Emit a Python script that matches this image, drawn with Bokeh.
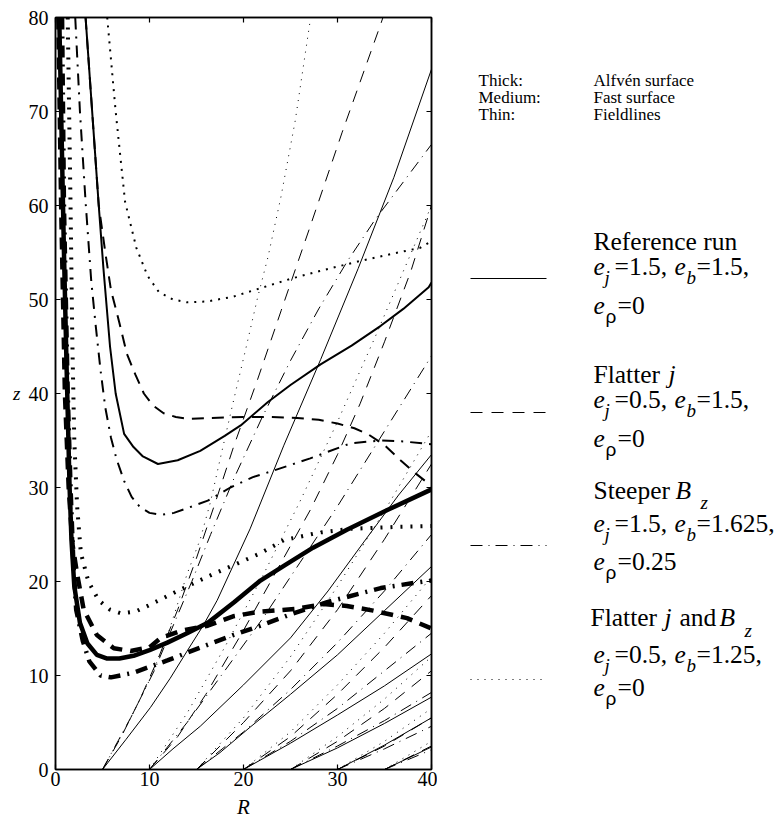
from bokeh.plotting import figure
from bokeh.models import Range1d, FixedTicker, LinearAxis
from bokeh.layouts import row
from bokeh.embed import file_html
from bokeh.resources import INLINE
from bokeh.core.properties import value

# ---------------- data (R, z) ----------------
X_TICKS = [0, 10, 20, 30, 40]
Y_TICKS = [0, 10, 20, 30, 40, 50, 60, 70, 80]

# Alfven surfaces (thick)
ALF_REF_R = [0.4, 0.6, 0.9, 1.2, 1.5, 1.7, 2.0, 2.6, 3.4, 4.4, 5.5, 6.8, 8.3, 10, 11.9, 14, 16.2, 19, 21.8, 24.5, 27.4, 31, 35.3, 40]
ALF_REF_Z = [80, 70, 55, 42, 30, 24.4, 19.5, 15.6, 13.4, 12.2, 11.8, 11.8, 12.1, 12.7, 13.5, 14.5, 15.6, 17.8, 20.1, 21.8, 23.6, 25.5, 27.6, 29.8]
ALF_FJ_R = [0.3, 0.6, 1.0, 1.4, 1.8, 2.3, 3.0, 4.4, 6.2, 8.0, 10.0, 11.2, 13.5, 16.2, 18.9, 21.8, 25.7, 28.5, 31, 33.8, 37.4, 40]
ALF_FJ_Z = [80, 60, 40, 30, 24, 20.8, 17, 14.3, 12.9, 12.6, 13.0, 14.0, 14.8, 15.3, 16.3, 16.8, 17.1, 17.6, 17.4, 16.9, 16.1, 15.0]
ALF_SB_R = [0.7, 0.9, 1.3, 1.6, 1.9, 2.2, 2.9, 3.6, 4.8, 5.9, 8.3, 11.9, 14.7, 18.9, 21.8, 25, 28.9, 34.6, 38.5, 40]
ALF_SB_Z = [80, 60, 40, 30, 22, 17, 13.7, 11.5, 10.0, 9.8, 10.3, 11.6, 12.7, 14.3, 15.3, 16.5, 17.8, 19.3, 19.9, 20.1]
ALF_FJB_R = [1.3, 1.6, 1.8, 2.0, 2.3, 2.7, 3.5, 4.6, 5.8, 7.0, 8.5, 9.8, 13, 16.8, 21.8, 24.3, 28, 31.4, 36, 40]
ALF_FJB_Z = [80, 60, 45, 35, 28, 23, 20, 18, 17, 16.6, 16.8, 17.4, 19.0, 20.8, 23, 24.4, 25.2, 25.6, 25.8, 25.9]

# Fast surfaces (medium)
FAST_REF_R = [3.2, 3.9, 4.6, 5.1, 5.8, 6.4, 7.3, 8.3, 9.3, 10.9, 13, 15.4, 18, 19.7, 22.6, 25, 28.2, 31.5, 34.6, 37, 39.7, 40]
FAST_REF_Z = [80, 70, 60, 53.3, 45, 40, 35.7, 34.3, 33.3, 32.5, 32.9, 33.9, 35.5, 36.6, 39.1, 40.9, 43.1, 45.1, 47.2, 49, 51.3, 51.8]
FAST_FJ_R = [3.2, 3.9, 4.6, 5.3, 5.9, 6.8, 7.6, 8.5, 9.4, 10.4, 11.5, 12.8, 14, 16.5, 20, 23, 25.7, 28, 30, 31.8, 33.2, 35, 36.7, 38.3, 39.7, 40]
FAST_FJ_Z = [80, 70, 60, 55, 51, 47.5, 44.2, 42, 40, 38.7, 37.9, 37.5, 37.3, 37.4, 37.5, 37.5, 37.4, 37.2, 36.8, 36.3, 35.7, 34.5, 32.9, 31.5, 30.4, 30.2]
FAST_SB_R = [2.1, 2.6, 3.2, 3.8, 4.3, 4.8, 5.3, 5.9, 6.5, 7.3, 8.1, 9.0, 10, 11.2, 12.6, 14, 16.2, 18.6, 21, 23.2, 27.1, 31.4, 34.6, 37, 40]
FAST_SB_Z = [80, 70, 60.4, 52, 47, 42.4, 38.5, 35.3, 33, 30.7, 29, 27.9, 27.3, 27.1, 27.3, 27.8, 28.6, 30, 31.1, 31.8, 33.1, 34.7, 35.0, 34.9, 34.6]
FAST_FJB_R = [5.5, 6.4, 7.4, 8.6, 9.8, 11, 12.5, 14, 16.2, 18.9, 21.8, 25, 28, 32.4, 36, 38.8, 40]
FAST_FJB_Z = [80, 70, 60.4, 55.5, 52.5, 50.8, 50, 49.7, 49.8, 50.3, 51.2, 52.2, 53, 54.1, 54.9, 55.5, 56.2]

# Field lines (thin), one list per footpoint
FL_REF_R = [[5, 7.5, 10.1, 12.2, 14, 15.7, 17.2, 20.7, 24.3, 28.2, 32.2, 36, 40],
            [10, 12.5, 15.4, 20, 25, 29, 32.8, 36.5, 40],
            [15, 17.5, 20.7, 25, 30, 35, 40],
            [20, 25, 30, 35, 40],
            [25, 30, 35, 40],
            [30, 35, 40],
            [35, 40]]
FL_REF_Z = [[0, 3.2, 6.6, 9.7, 12.6, 15.3, 18, 25.6, 34.5, 43.6, 53.3, 63, 74.5],
            [0, 2.2, 4.6, 9.0, 14, 19, 24.2, 29.2, 33.5],
            [0, 1.8, 4.5, 8, 12.2, 16.9, 21.6],
            [0, 2.8, 5.8, 8.9, 12.3],
            [0, 2.3, 4.9, 7.7],
            [0, 2.6, 5.5],
            [0, 2.4]]
FL_FJ_R = [[5, 7, 9, 11, 13, 15, 17, 19, 21.5, 24, 27, 30.5, 34.6, 35],
           [10, 13, 16, 20, 24, 27.1, 30, 32.4, 35, 37.8, 40],
           [15, 20, 25, 30, 35, 40],
           [20, 25, 30, 35, 40],
           [25, 30, 35, 40],
           [30, 35, 40],
           [35, 40]]
FL_FJ_Z = [[0, 3.5, 7.5, 12, 17, 22.5, 28.4, 34.5, 41.5, 48.8, 57.5, 67.8, 79.3, 80.5],
           [0, 3.5, 8, 14.8, 22, 27.6, 33.5, 38.9, 45.5, 53, 60],
           [0, 5, 10.5, 17, 24.5, 32.5],
           [0, 3.5, 8, 13, 18.5],
           [0, 3, 6.5, 10.5],
           [0, 2.5, 5.5],
           [0, 2.5]]
FL_SB_R = [[5, 8, 10.5, 12.6, 14.5, 16.5, 19, 22, 25, 28, 31, 34, 37, 40],
           [10, 14, 18, 22, 26, 30, 35, 40],
           [15, 20, 25, 30, 35, 40],
           [20, 25, 30, 35, 40],
           [25, 30, 35, 40],
           [30, 35, 40],
           [35, 40]]
FL_SB_Z = [[0, 5.5, 10.5, 15.5, 20, 25, 31, 37.5, 43.5, 49, 54, 58.5, 62.5, 66.5],
           [0, 5, 10.5, 16, 22, 28, 36, 44],
           [0, 4, 8.5, 13.5, 19, 25],
           [0, 3, 6.5, 10.5, 14.5],
           [0, 2.5, 5.2, 8.2],
           [0, 2.2, 4.6],
           [0, 2.1]]
FL_FJB_R = [[5, 7.5, 10, 12, 14, 15.4, 16.5, 17.6, 19, 20.3, 21.5, 22.6, 24, 25.5, 27.1, 27.2],
            [10, 14, 18, 22, 26, 30, 34, 37, 40],
            [15, 20, 25, 30, 35, 40],
            [20, 25, 30, 35, 40],
            [25, 30, 35, 40],
            [30, 35, 40],
            [35, 40]]
FL_FJB_Z = [[0, 4.5, 9.5, 14.5, 20.8, 24.5, 28.5, 33.4, 39.5, 45, 50.2, 54.5, 61, 69, 79.7, 80.5],
            [0, 6, 13, 20.5, 28.5, 37, 46, 53, 60],
            [0, 5.5, 12, 19.5, 27.5, 36],
            [0, 4, 9, 14.5, 20.5],
            [0, 3.5, 7.5, 12],
            [0, 3, 6.5],
            [0, 3]]

# legend texts
HEAD = ["Thick:", "Medium:", "Thin:"]
HEAD_VAL = ["Alfvén surface", "Fast surface", "Fieldlines"]
EJ = ["1.5", "0.5", "1.5", "0.5"]
EB = ["1.5", "1.5", "1.625", "1.25"]
ER = ["0", "0", "0.25", "0"]

# ---------------- styles ----------------
SERIF = "Liberation Serif, Times New Roman, serif"
THIN_DASH = {"ref": "solid", "fj": "12 9", "sb": "12 6 1 6", "fjb": "1 6"}
MED_DASH = {"ref": "solid", "fj": "12 8", "sb": "12 7 2 7", "fjb": "2 6"}
THICK_DASH = {"ref": "solid", "fj": "12 8", "sb": "12 7 2 7", "fjb": "2 8"}

# ---------------- main plot ----------------
LEFT, TOP, RIGHT = 55, 17, 6
FW, FH = 376, 752
p = figure(frame_width=FW, frame_height=FH, x_range=Range1d(0, 40), y_range=Range1d(0, 80),
           output_backend="svg", toolbar_location=None,
           min_border_left=LEFT, min_border_right=RIGHT, min_border_top=TOP, min_border_bottom=40)
p.xgrid.visible = False
p.ygrid.visible = False
p.outline_line_color = "black"
p.outline_line_width = 1.5
p.background_fill_color = "white"
p.border_fill_color = "white"

for ax, ticks in ((p.xaxis[0], X_TICKS), (p.yaxis[0], Y_TICKS)):
    ax.ticker = FixedTicker(ticks=ticks)
    ax.major_tick_in = 5
    ax.major_tick_out = 0
    ax.minor_tick_line_color = None
    ax.axis_line_width = 1.5
    ax.major_tick_line_width = 1.2
    ax.major_label_text_font = SERIF
    ax.major_label_text_font_size = "20px"
    ax.major_label_text_color = "black"
    ax.axis_label_text_font = SERIF
    ax.axis_label_text_font_style = "italic"
    ax.axis_label_text_color = "black"
p.xaxis[0].major_label_standoff = 2
p.yaxis[0].major_label_standoff = 7
p.xaxis[0].axis_label = "R"
p.xaxis[0].axis_label_text_font_size = "21px"
p.xaxis[0].axis_label_standoff = 6
ya = p.yaxis[0]
ya.axis_label = "z"
ya.axis_label_text_font_size = "19px"
ya.axis_label_standoff = 5
if "axis_label_orientation" in ya.properties():
    ya.axis_label_orientation = "horizontal"

for loc, ticks in (("above", X_TICKS), ("right", Y_TICKS)):
    ax = LinearAxis(ticker=FixedTicker(ticks=ticks), major_tick_in=5, major_tick_out=0,
                    minor_tick_line_color=None, major_label_standoff=0,
                    major_label_overrides={t: "" for t in ticks},
                    major_label_text_font_size="1px",
                    axis_line_width=1.5, major_tick_line_width=1.2)
    p.add_layout(ax, loc)

# fieldlines
for key, xs, ys in (("ref", FL_REF_R, FL_REF_Z), ("fj", FL_FJ_R, FL_FJ_Z),
                    ("sb", FL_SB_R, FL_SB_Z), ("fjb", FL_FJB_R, FL_FJB_Z)):
    p.multi_line(xs, ys, line_color="black", line_width=1, line_dash=THIN_DASH[key])

# fast surfaces
for key, xs, ys in (("ref", FAST_REF_R, FAST_REF_Z), ("fj", FAST_FJ_R, FAST_FJ_Z),
                    ("sb", FAST_SB_R, FAST_SB_Z), ("fjb", FAST_FJB_R, FAST_FJB_Z)):
    p.line(xs, ys, line_color="black", line_width=2, line_dash=MED_DASH[key])

# alfven surfaces
for key, xs, ys in (("ref", ALF_REF_R, ALF_REF_Z), ("fj", ALF_FJ_R, ALF_FJ_Z),
                    ("sb", ALF_SB_R, ALF_SB_Z), ("fjb", ALF_FJB_R, ALF_FJB_Z)):
    p.line(xs, ys, line_color="black", line_width=4.5 if key != "fjb" else 4, line_dash=THICK_DASH[key])

# ---------------- legend panel: its frame sits level with the plot frame; data = page px ----------------
X0 = LEFT + FW + RIGHT
W2 = 345
q = figure(frame_width=W2, frame_height=FH, x_range=Range1d(X0, X0 + W2),
           y_range=Range1d(TOP + FH, TOP),
           output_backend="svg", toolbar_location=None, x_axis_location=None,
           y_axis_location=None, min_border_left=0, min_border_right=0,
           min_border_top=TOP, min_border_bottom=0)
q.xgrid.visible = False
q.ygrid.visible = False
q.outline_line_color = None
q.background_fill_color = "white"
q.border_fill_color = "white"


def txt(x, y, s, size, style="normal", font=SERIF):
    q.text(x=[x], y=[y], text=[s], text_font=value(font), text_font_size=value(size),
           text_font_style=value(style), text_baseline=value("alphabetic"),
           text_align=value("left"), text_color="black")


HEAD_Y = [80, 97, 114]
for a, b, yb in zip(HEAD, HEAD_VAL, HEAD_Y):
    txt(478, yb, a, "17px")
    txt(593, yb, b, "17px")

FS = "25.5px"
SUB = "19px"
LEG_Y = [278, 412, 545, 679]
for key, y in zip(["ref", "fj", "sb", "fjb"], LEG_Y):
    q.line([470, 546], [y, y], line_color="black", line_width=1, line_dash=THIN_DASH[key])

BASE = [(241, 266, 305), (374, 399, 438), (490, 523, 561), (617, 654, 687)]

# titles
txt(593, BASE[0][0], "Reference run", FS)
txt(593, BASE[1][0], "Flatter", FS)
txt(668, BASE[1][0], "j", FS, "italic")
txt(593, BASE[2][0], "Steeper", FS)
txt(675, BASE[2][0], "B", FS, "italic")
txt(700, BASE[2][0] + 12, "z", SUB, "italic")
txt(590, BASE[3][0], "Flatter", FS)
txt(664, BASE[3][0], "j", FS, "italic")
txt(679, BASE[3][0], "and", FS)
txt(719, BASE[3][0], "B", FS, "italic")
txt(744, BASE[3][0] + 13, "z", SUB, "italic")

for i in range(4):
    _, y2, y3 = BASE[i]
    txt(593, y2, "e", FS, "italic")
    txt(604, y2 + 11, "j", SUB, "italic")
    txt(614, y2, "=" + EJ[i] + ",", FS)
    txt(674, y2, "e", FS, "italic")
    txt(686, y2 + 11, "b", SUB, "italic")
    txt(696, y2, "=" + EB[i] + ",", FS)
    txt(593, y3, "e", FS, "italic")
    txt(605, y3 + 11, "ρ", SUB, "normal", "Liberation Sans, sans-serif")
    txt(617, y3, "=" + ER[i], FS)

layout = row(p, q)
open("out.html", "w").write(file_html(layout, INLINE))
